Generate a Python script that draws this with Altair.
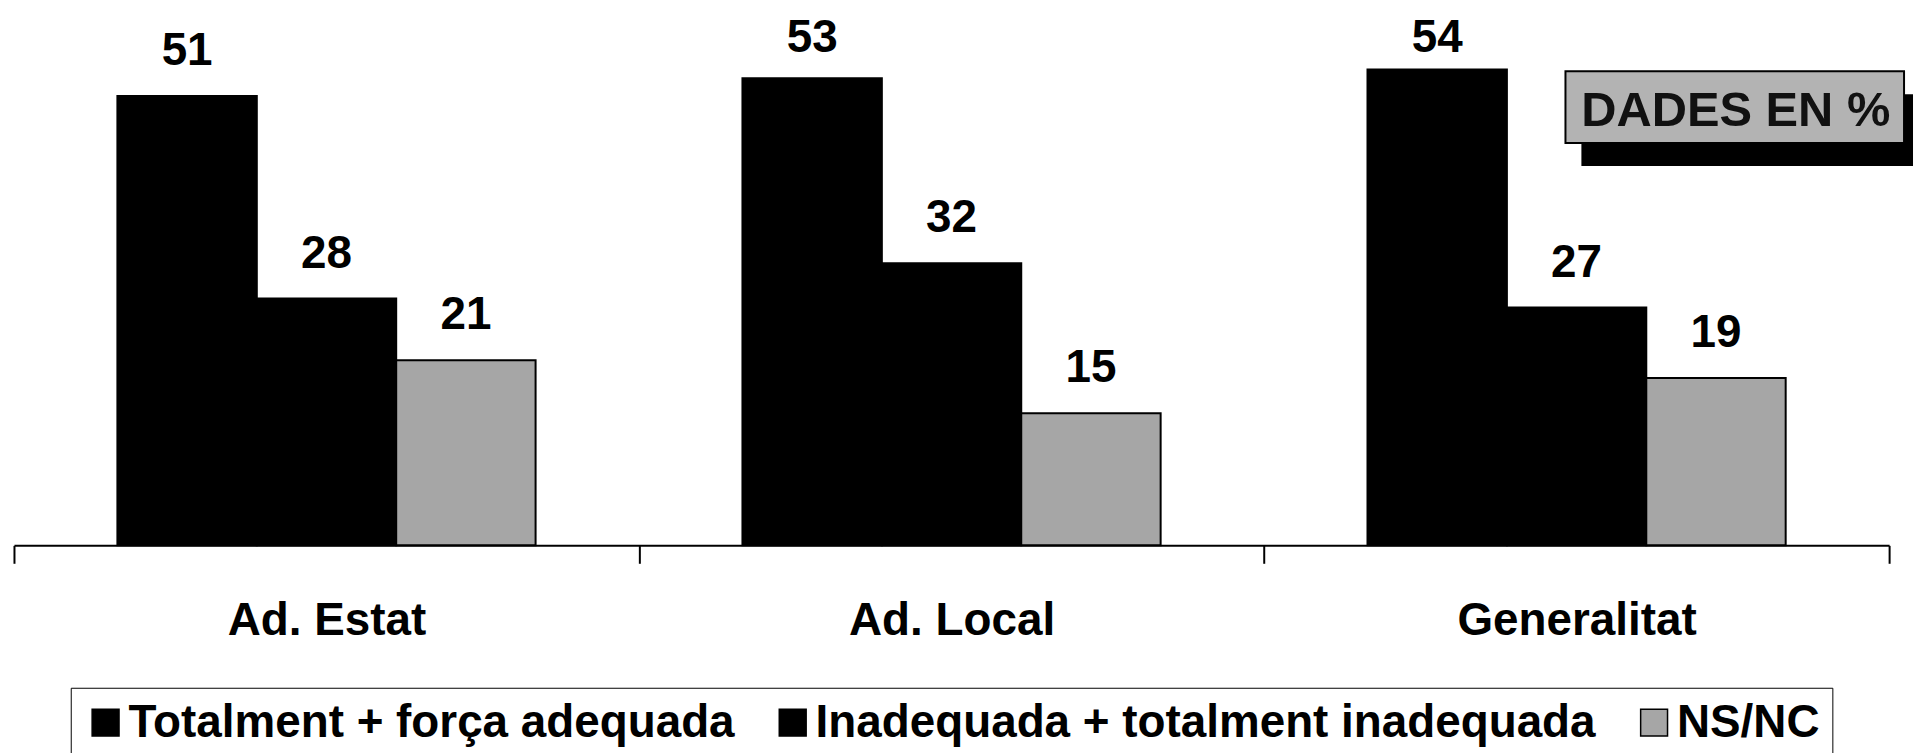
import altair as alt
import pandas as pd

FONT = "Liberation Sans"

categories = ["Ad. Estat", "Ad. Local", "Generalitat"]
series = ["Totalment + força adequada", "Inadequada + totalment inadequada", "NS/NC"]
totalment = [51, 53, 54]
inadequada = [28, 32, 27]
nsnc = [21, 15, 19]
colors = ["#000000", "#000000", "#a6a6a6"]
badge_text = ["DADES EN %"]

rows = []
for i, c in enumerate(categories):
    for s, vals in zip(series, [totalment, inadequada, nsnc]):
        rows.append({"cat": c, "serie": s, "val": vals[i]})
df = pd.DataFrame(rows)

W, H = 1883, 531

x_enc = alt.X(
    "cat:N",
    sort=categories,
    scale=alt.Scale(paddingInner=0, paddingOuter=0),
    axis=alt.Axis(
        title=None,
        labelAngle=0,
        labelFont=FONT,
        labelFontSize=46,
        labelFontWeight="bold",
        labelColor="black",
        labelPadding=36,
        labelLimit=1000,
        domainColor="black",
        domainWidth=2,
        tickColor="black",
        tickWidth=2,
        tickSize=18,
        tickBand="extent",
        grid=False,
    ),
)
xoff_enc = alt.XOffset(
    "serie:N", sort=series, scale=alt.Scale(paddingInner=0, paddingOuter=0.742)
)
y_scale = alt.Scale(domain=[0, 60])

bars = alt.Chart(df).mark_bar(stroke="black", strokeWidth=2).encode(
    x=x_enc,
    xOffset=xoff_enc,
    y=alt.Y("val:Q", scale=y_scale, axis=None),
    color=alt.Color(
        "serie:N",
        sort=series,
        scale=alt.Scale(domain=series, range=colors),
        legend=alt.Legend(
            title=None,
            orient="none",
            legendX=57,
            legendY=674,
            direction="horizontal",
            symbolType="square",
            symbolSize=729,
            symbolStrokeColor="black",
            symbolStrokeWidth=1.5,
            labelFont=FONT,
            labelFontSize=46,
            labelFontWeight="bold",
            labelColor="black",
            labelLimit=2000,
            labelOffset=0,
            columnPadding=35,
            padding=12,
            strokeColor="black",
        ),
    ),
)

labels = (
    alt.Chart(df)
    .transform_calculate(ly="min(datum.val + 3.5, 56)")
    .mark_text(font=FONT, fontSize=46, fontWeight="bold", color="black", baseline="alphabetic")
    .encode(
        x=x_enc,
        xOffset=xoff_enc,
        y=alt.Y("ly:Q", scale=y_scale, axis=None),
        text="val:Q",
    )
)

badge_df = pd.DataFrame({"t": badge_text})
shadow = alt.Chart(badge_df).mark_rect(color="black").encode(
    x=alt.value(1574), x2=alt.value(1907), y=alt.value(78), y2=alt.value(150)
)
box = alt.Chart(badge_df).mark_rect(
    fill="#b3b3b3", stroke="black", strokeWidth=2
).encode(x=alt.value(1558), x2=alt.value(1898), y=alt.value(55), y2=alt.value(127))
badge = alt.Chart(badge_df).mark_text(
    font=FONT, fontSize=49, fontWeight="bold", color="#111111", baseline="alphabetic", align="center"
).encode(x=alt.value(1729), y=alt.value(110), text="t:N")

chart = (
    alt.layer(bars, labels, shadow, box, badge)
    .properties(
        width=W,
        height=H,
        autosize=alt.AutoSizeParams(type="none"),
        padding={"left": 6, "top": 7, "right": 26, "bottom": 232},
    )
    .configure_view(strokeWidth=0)
)

chart.save("out.html", embed_options={"renderer": "svg", "actions": False})
